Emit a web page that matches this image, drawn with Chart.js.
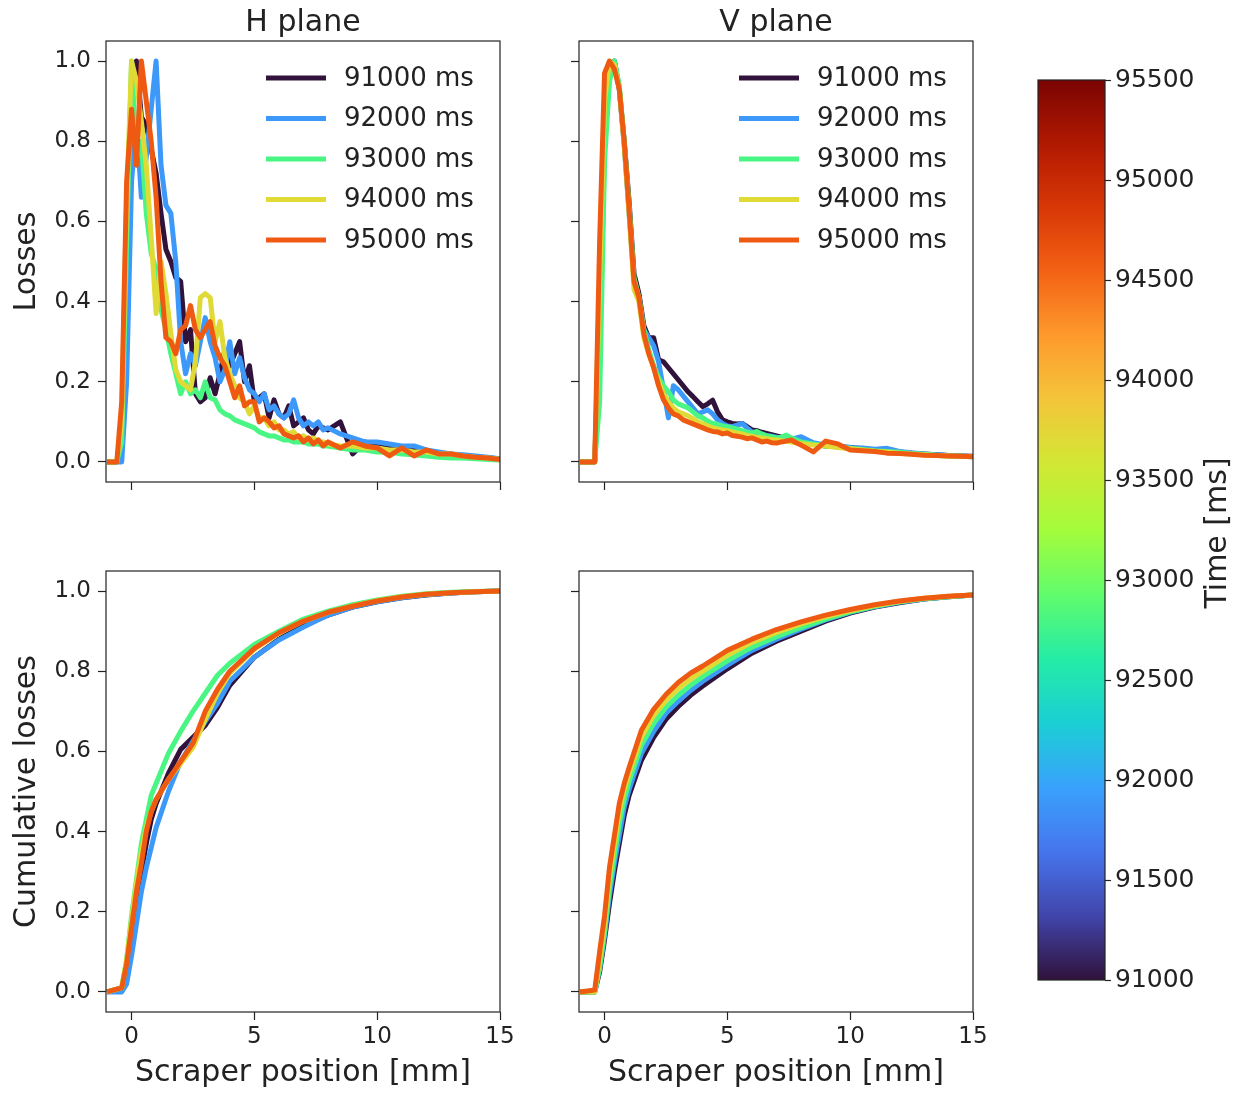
<!DOCTYPE html>
<html lang="en">
<head>
<meta charset="utf-8">
<title>Scraper scan - H and V plane losses</title>
<script src="https://cdn.jsdelivr.net/npm/chart.js@4.4.1/dist/chart.umd.min.js"></script>
<style>
  html, body { margin: 0; padding: 0; background: #ffffff; }
  #figure { position: relative; width: 1233px; height: 1093px; overflow: hidden; background: #ffffff; }
  #figure canvas { position: absolute; }
</style>
</head>
<body>
<div id="figure">
  <canvas id="lossH" width="520" height="500" style="left:0;top:0"></canvas>
  <canvas id="lossV" width="432" height="500" style="left:560px;top:0"></canvas>
  <canvas id="cumH" width="520" height="553" style="left:0;top:540px"></canvas>
  <canvas id="cumV" width="432" height="553" style="left:560px;top:540px"></canvas>
  <canvas id="cbar" width="233" height="1093" style="left:1000px;top:0"></canvas>
</div>
<script>
// ============================================================
// DATA
// ============================================================
const times = [91000, 92000, 93000, 94000, 95000];
const lineColors = ["#30123b", "#3c99f9", "#49f683", "#dfda36", "#ee5a12"];

// scraper position [mm] for the loss profiles
const xLoss = [
  -1.0, -0.6, -0.4, -0.2, 0.0, 0.2, 0.4, 0.6, 0.8, 1.0,
  1.2, 1.4, 1.6, 1.8, 2.0, 2.2, 2.4, 2.6, 2.8, 3.0,
  3.2, 3.4, 3.6, 3.8, 4.0, 4.2, 4.4, 4.6, 4.8, 5.0,
  5.2, 5.4, 5.6, 5.8, 6.0, 6.2, 6.4, 6.6, 6.8, 7.0,
  7.2, 7.4, 7.6, 7.8, 8.0, 8.5, 9.0, 9.5, 10.0,
  10.5, 11.0, 11.5, 12.0, 12.5, 13.0, 13.5, 14.0, 14.5, 15.0
];

// H plane, normalised losses
const hLoss91 = [
  0, 0, 0.05, 0.60, 0.95, 1.00, 0.86, 0.84, 0.78, 0.72,
  0.62, 0.53, 0.50, 0.46, 0.45, 0.30, 0.33, 0.17, 0.15, 0.16,
  0.21, 0.17, 0.22, 0.28, 0.24, 0.27, 0.30, 0.20, 0.24, 0.15,
  0.16, 0.17, 0.11, 0.155, 0.12, 0.11, 0.14, 0.09, 0.10, 0.11,
  0.08, 0.07, 0.09, 0.085, 0.08, 0.10, 0.02, 0.05, 0.04,
  0.04, 0.035, 0.03, 0.025, 0.02, 0.02, 0.015, 0.012, 0.01, 0.008
];
const hLoss92 = [
  0, 0, 0, 0.20, 0.70, 0.85, 0.66, 0.76, 0.88, 1.00,
  0.74, 0.64, 0.62, 0.50, 0.30, 0.22, 0.27, 0.24, 0.30, 0.36,
  0.30, 0.26, 0.20, 0.23, 0.30, 0.22, 0.26, 0.21, 0.18, 0.17,
  0.15, 0.17, 0.13, 0.14, 0.12, 0.11, 0.12, 0.155, 0.11, 0.09,
  0.10, 0.09, 0.10, 0.08, 0.085, 0.07, 0.06, 0.05, 0.05,
  0.045, 0.04, 0.04, 0.03, 0.025, 0.02, 0.018, 0.015, 0.012, 0.008
];
const hLoss93 = [
  0, 0, 0.05, 0.55, 1.00, 0.76, 0.80, 0.62, 0.52, 0.48,
  0.38, 0.33, 0.27, 0.22, 0.17, 0.20, 0.17, 0.18, 0.16, 0.20,
  0.16, 0.155, 0.13, 0.12, 0.115, 0.105, 0.10, 0.095, 0.09, 0.085,
  0.075, 0.07, 0.065, 0.065, 0.06, 0.055, 0.055, 0.05, 0.05, 0.05,
  0.045, 0.045, 0.045, 0.04, 0.04, 0.035, 0.03, 0.03, 0.025,
  0.025, 0.02, 0.018, 0.015, 0.012, 0.01, 0.01, 0.008, 0.006, 0.005
];
const hLoss94 = [
  0, 0, 0.10, 0.65, 1.00, 0.95, 0.85, 0.74, 0.56, 0.37,
  0.50, 0.42, 0.32, 0.23, 0.20, 0.19, 0.18, 0.25, 0.41, 0.42,
  0.41, 0.30, 0.35, 0.26, 0.22, 0.19, 0.16, 0.15, 0.12, 0.14,
  0.11, 0.11, 0.09, 0.10, 0.08, 0.08, 0.07, 0.075, 0.06, 0.065,
  0.055, 0.06, 0.05, 0.05, 0.045, 0.04, 0.04, 0.035, 0.035,
  0.03, 0.03, 0.025, 0.025, 0.02, 0.02, 0.015, 0.012, 0.01, 0.007
];
const hLoss95 = [
  0, 0, 0.15, 0.70, 0.88, 0.74, 1.00, 0.90, 0.80, 0.66,
  0.45, 0.31, 0.30, 0.27, 0.33, 0.34, 0.39, 0.33, 0.31, 0.33,
  0.35, 0.29, 0.26, 0.24, 0.20, 0.16, 0.19, 0.14, 0.15, 0.15,
  0.10, 0.11, 0.10, 0.085, 0.09, 0.07, 0.065, 0.06, 0.065, 0.05,
  0.06, 0.045, 0.055, 0.04, 0.05, 0.035, 0.05, 0.04, 0.035,
  0.015, 0.035, 0.015, 0.03, 0.02, 0.02, 0.015, 0.012, 0.01, 0.006
];

// V plane, normalised losses
const vLoss91 = [
  0, 0, 0, 0.35, 0.85, 0.97, 1.00, 0.93, 0.80, 0.65,
  0.47, 0.42, 0.34, 0.31, 0.31, 0.255, 0.25, 0.235, 0.22, 0.205,
  0.19, 0.175, 0.163, 0.15, 0.138, 0.145, 0.154, 0.125, 0.105, 0.10,
  0.096, 0.095, 0.096, 0.088, 0.08, 0.078, 0.074, 0.071, 0.068, 0.065,
  0.062, 0.06, 0.056, 0.055, 0.052, 0.045, 0.04, 0.038, 0.036,
  0.033, 0.03, 0.028, 0.025, 0.022, 0.02, 0.018, 0.016, 0.015, 0.014
];
const vLoss92 = [
  0, 0, 0, 0.25, 0.80, 0.96, 1.00, 0.93, 0.79, 0.62,
  0.45, 0.41, 0.33, 0.31, 0.29, 0.25, 0.18, 0.11, 0.19, 0.18,
  0.165, 0.15, 0.135, 0.12, 0.125, 0.13, 0.12, 0.105, 0.096, 0.09,
  0.088, 0.092, 0.096, 0.085, 0.075, 0.07, 0.068, 0.066, 0.064, 0.062,
  0.058, 0.055, 0.058, 0.06, 0.063, 0.048, 0.042, 0.04, 0.036,
  0.035, 0.032, 0.034, 0.026, 0.023, 0.02, 0.018, 0.016, 0.015, 0.013
];
const vLoss93 = [
  0, 0, 0, 0.15, 0.75, 0.95, 1.00, 0.94, 0.80, 0.64,
  0.46, 0.41, 0.33, 0.28, 0.24, 0.21, 0.19, 0.175, 0.155, 0.145,
  0.14, 0.135, 0.125, 0.115, 0.11, 0.102, 0.096, 0.094, 0.09, 0.088,
  0.085, 0.082, 0.078, 0.075, 0.072, 0.076, 0.07, 0.065, 0.063, 0.06,
  0.062, 0.067, 0.06, 0.055, 0.05, 0.045, 0.04, 0.038, 0.034,
  0.031, 0.028, 0.026, 0.024, 0.021, 0.019, 0.017, 0.015, 0.014, 0.013
];
const vLoss94 = [
  0, 0, 0, 0.45, 0.90, 1.00, 0.99, 0.93, 0.79, 0.62,
  0.43, 0.40, 0.31, 0.27, 0.235, 0.20, 0.17, 0.15, 0.135, 0.125,
  0.12, 0.115, 0.108, 0.10, 0.095, 0.09, 0.085, 0.082, 0.08, 0.078,
  0.075, 0.072, 0.07, 0.066, 0.064, 0.062, 0.06, 0.058, 0.056, 0.055,
  0.053, 0.052, 0.05, 0.048, 0.046, 0.042, 0.04, 0.036, 0.033,
  0.03, 0.027, 0.025, 0.022, 0.02, 0.018, 0.016, 0.015, 0.014, 0.013
];
const vLoss95 = [
  0, 0, 0, 0.55, 0.97, 1.00, 0.98, 0.93, 0.80, 0.63,
  0.45, 0.41, 0.32, 0.27, 0.235, 0.19, 0.155, 0.135, 0.12, 0.115,
  0.105, 0.10, 0.095, 0.09, 0.085, 0.08, 0.076, 0.075, 0.07, 0.072,
  0.066, 0.064, 0.062, 0.058, 0.06, 0.055, 0.05, 0.052, 0.048, 0.047,
  0.05, 0.052, 0.055, 0.048, 0.042, 0.025, 0.052, 0.045, 0.03,
  0.028, 0.026, 0.022, 0.021, 0.019, 0.017, 0.016, 0.015, 0.014, 0.013
];

// scraper position [mm] for the cumulative curves
const xCum = [-1, -0.4, -0.2, 0, 0.2, 0.4, 0.6, 0.8, 1.0, 1.5, 2, 2.5, 3, 3.5, 4, 5, 6, 7, 8, 9, 10, 11, 12, 13, 14, 15];

const hCum91 = [0, 0.01, 0.05, 0.13, 0.22, 0.30, 0.37, 0.43, 0.47, 0.545, 0.605, 0.635, 0.665, 0.71, 0.765, 0.835, 0.88, 0.915, 0.94, 0.96, 0.973, 0.983, 0.99, 0.995, 0.998, 1.0];
const hCum92 = [0, 0, 0.02, 0.09, 0.17, 0.25, 0.31, 0.36, 0.41, 0.50, 0.575, 0.625, 0.675, 0.72, 0.775, 0.835, 0.878, 0.91, 0.94, 0.96, 0.973, 0.983, 0.991, 0.995, 0.998, 1.0];
const hCum93 = [0, 0.01, 0.08, 0.19, 0.28, 0.37, 0.43, 0.49, 0.52, 0.595, 0.65, 0.70, 0.745, 0.79, 0.82, 0.867, 0.90, 0.93, 0.95, 0.966, 0.978, 0.987, 0.993, 0.997, 0.999, 1.0];
const hCum94 = [0, 0.01, 0.08, 0.18, 0.27, 0.35, 0.41, 0.45, 0.48, 0.53, 0.57, 0.61, 0.68, 0.745, 0.795, 0.855, 0.895, 0.925, 0.947, 0.963, 0.976, 0.986, 0.992, 0.996, 0.998, 1.0];
const hCum95 = [0, 0.01, 0.07, 0.16, 0.25, 0.32, 0.40, 0.45, 0.48, 0.53, 0.575, 0.62, 0.70, 0.755, 0.80, 0.857, 0.896, 0.925, 0.947, 0.962, 0.975, 0.985, 0.992, 0.996, 0.998, 1.0];

const vCum91 = [0, 0, 0.05, 0.13, 0.22, 0.30, 0.37, 0.44, 0.49, 0.578, 0.635, 0.68, 0.712, 0.74, 0.763, 0.806, 0.845, 0.875, 0.90, 0.925, 0.945, 0.96, 0.971, 0.98, 0.986, 0.99];
const vCum92 = [0, 0, 0.06, 0.14, 0.24, 0.32, 0.39, 0.46, 0.505, 0.595, 0.65, 0.695, 0.725, 0.752, 0.775, 0.815, 0.852, 0.88, 0.905, 0.928, 0.947, 0.961, 0.972, 0.98, 0.986, 0.99];
const vCum93 = [0, 0, 0.06, 0.15, 0.26, 0.34, 0.42, 0.48, 0.525, 0.615, 0.67, 0.71, 0.74, 0.765, 0.787, 0.826, 0.86, 0.886, 0.909, 0.93, 0.948, 0.962, 0.973, 0.981, 0.986, 0.99];
const vCum94 = [0, 0, 0.08, 0.17, 0.29, 0.37, 0.45, 0.505, 0.545, 0.635, 0.69, 0.728, 0.757, 0.78, 0.80, 0.84, 0.872, 0.897, 0.918, 0.936, 0.951, 0.964, 0.974, 0.982, 0.987, 0.99];
const vCum95 = [0, 0.005, 0.10, 0.19, 0.31, 0.39, 0.47, 0.52, 0.56, 0.653, 0.705, 0.742, 0.772, 0.795, 0.813, 0.852, 0.88, 0.904, 0.923, 0.94, 0.954, 0.966, 0.975, 0.982, 0.987, 0.99];

// axis ticks
const xTicks = [0, 5, 10, 15];
const yTicks = [0, 0.2, 0.4, 0.6, 0.8, 1.0];
const cbarTicks = [91000, 91500, 92000, 92500, 93000, 93500, 94000, 94500, 95000, 95500];

// turbo colormap, evenly spaced stops from bottom to top of the colorbar
const turboStops = [
  "#30123b", "#4145ab", "#4675ed", "#39a2fc", "#1bcfd4",
  "#24eca6", "#61fc6c", "#a4fc3b", "#d1e834", "#f3c63a",
  "#fe9b2d", "#f36315", "#d93806", "#b11901", "#7a0402"
];

// ============================================================
// STYLE
// ============================================================
const FONT = "'DejaVu Sans', sans-serif";
const INK = "#222222";
const LINE_W = 5;

// ============================================================
// PLUGINS
// ============================================================
// full box around the plot area (all four spines)
const framePlugin = {
  id: "frame",
  afterDraw(chart) {
    const { ctx, chartArea: a } = chart;
    ctx.save();
    ctx.strokeStyle = INK;
    ctx.lineWidth = 1.2;
    ctx.strokeRect(a.left, a.top, a.right - a.left, a.bottom - a.top);
    ctx.restore();
  }
};

// legend drawn inside the plot area, upper right
const insideLegend = {
  id: "insideLegend",
  afterDatasetsDraw(chart, args, opts) {
    if (!opts.show) return;
    const { ctx, chartArea: a } = chart;
    ctx.save();
    ctx.font = `26px ${FONT}`;
    ctx.textBaseline = "middle";
    ctx.textAlign = "left";
    chart.data.datasets.forEach((ds, i) => {
      const y = a.top + 37 + i * 40.5;
      ctx.strokeStyle = ds.borderColor;
      ctx.lineWidth = LINE_W;
      ctx.beginPath();
      ctx.moveTo(a.right - 234, y);
      ctx.lineTo(a.right - 174, y);
      ctx.stroke();
      ctx.fillStyle = INK;
      ctx.fillText(ds.label, a.right - 156, y + 1);
    });
    ctx.restore();
  }
};

// colorbar gradient, placed with the y scale
const colorbarFill = {
  id: "colorbarFill",
  beforeDatasetsDraw(chart) {
    const { ctx, chartArea: a, scales: { y } } = chart;
    const lo = cbarTicks[0];
    const hi = cbarTicks[cbarTicks.length - 1];
    const g = ctx.createLinearGradient(0, y.getPixelForValue(lo), 0, y.getPixelForValue(hi));
    turboStops.forEach((c, i) => g.addColorStop(i / (turboStops.length - 1), c));
    ctx.save();
    ctx.fillStyle = g;
    ctx.fillRect(a.left, a.top, a.right - a.left, a.bottom - a.top);
    ctx.restore();
  }
};

// colorbar label, reading bottom to top
const sideLabel = {
  id: "sideLabel",
  afterDraw(chart, args, opts) {
    const { ctx, chartArea: a } = chart;
    ctx.save();
    ctx.translate(opts.x, (a.top + a.bottom) / 2 + 3);
    ctx.rotate(-Math.PI / 2);
    ctx.font = `30px ${FONT}`;
    ctx.fillStyle = INK;
    ctx.textAlign = "center";
    ctx.textBaseline = "middle";
    ctx.fillText(opts.text, 0, 0);
    ctx.restore();
  }
};

// ============================================================
// SCALES
// ============================================================
function makeScale(o) {
  return {
    type: "linear",
    position: o.position,
    min: o.min,
    max: o.max,
    afterBuildTicks: s => { s.ticks = o.ticks.map(v => ({ value: v })); },
    afterFit: s => {
      if (s.isHorizontal()) s.height = o.size; else s.width = o.size;
      s.paddingLeft = 0; s.paddingRight = 0; s.paddingTop = 0; s.paddingBottom = 0;
    },
    grid: { drawOnChartArea: false, drawTicks: true, tickLength: o.tickLength || 8, tickColor: INK, tickWidth: 1.2 },
    border: { display: false },
    ticks: {
      display: o.labels,
      color: INK,
      font: { family: FONT, size: o.fontSize || 23 },
      padding: o.padding,
      maxRotation: 0,
      autoSkip: false,
      callback: o.format
    },
    title: o.title
      ? { display: true, text: o.title, color: INK, font: { family: FONT, size: 30 }, padding: o.titlePadding }
      : { display: false }
  };
}

// ============================================================
// PANELS
// ============================================================
function linePanel(id, x, series, o) {
  const datasets = series.map((ys, i) => ({
    label: `${times[i]} ms`,
    data: x.map((xv, k) => ({ x: xv, y: ys[k] })),
    borderColor: lineColors[i],
    backgroundColor: lineColors[i],
    borderWidth: LINE_W,
    borderJoinStyle: "round",
    pointRadius: 0,
    tension: 0,
    order: times.length - i
  }));

  return new Chart(document.getElementById(id), {
    type: "line",
    data: { datasets },
    options: {
      responsive: false,
      animation: false,
      events: [],
      layout: { padding: o.padding },
      plugins: {
        legend: { display: false },
        tooltip: { enabled: false },
        title: o.title
          ? { display: true, text: o.title, fullSize: false, color: INK,
              font: { family: FONT, size: 30, weight: "normal" }, padding: { top: 5, bottom: 0 } }
          : { display: false },
        insideLegend: { show: !!o.legend }
      },
      scales: {
        x: makeScale({
          position: "bottom", min: -1.04, max: 15, ticks: xTicks, size: o.xHeight,
          labels: o.xLabels, padding: 3, format: v => String(v),
          title: o.xLabels ? "Scraper position [mm]" : null, titlePadding: { top: 0, bottom: 2 }
        }),
        y: makeScale({
          position: "left", min: -0.05, max: 1.05, ticks: yTicks, size: o.yWidth,
          labels: o.yLabels, padding: 7, format: v => v.toFixed(1),
          title: o.yTitle, titlePadding: { top: 9, bottom: 0 }
        })
      }
    },
    plugins: [framePlugin, insideLegend]
  });
}

linePanel("lossH", xLoss, [hLoss91, hLoss92, hLoss93, hLoss94, hLoss95], {
  title: "H plane", legend: true, yTitle: "Losses", yLabels: true, xLabels: false,
  yWidth: 106, xHeight: 18, padding: { left: 0, right: 20, top: 0, bottom: 0 }
});
linePanel("lossV", xLoss, [vLoss91, vLoss92, vLoss93, vLoss94, vLoss95], {
  title: "V plane", legend: true, yTitle: null, yLabels: false, xLabels: false,
  yWidth: 19, xHeight: 18, padding: { left: 0, right: 19, top: 0, bottom: 0 }
});
linePanel("cumH", xCum, [hCum91, hCum92, hCum93, hCum94, hCum95], {
  title: null, legend: false, yTitle: "Cumulative losses", yLabels: true, xLabels: true,
  yWidth: 106, xHeight: 81, padding: { left: 0, right: 20, top: 31, bottom: 0 }
});
linePanel("cumV", xCum, [vCum91, vCum92, vCum93, vCum94, vCum95], {
  title: null, legend: false, yTitle: null, yLabels: false, xLabels: true,
  yWidth: 19, xHeight: 81, padding: { left: 0, right: 19, top: 31, bottom: 0 }
});

// ============================================================
// COLORBAR
// ============================================================
new Chart(document.getElementById("cbar"), {
  type: "line",
  data: { datasets: [] },
  options: {
    responsive: false,
    animation: false,
    events: [],
    layout: { padding: { left: 38, top: 80, bottom: 113, right: 0 } },
    plugins: {
      legend: { display: false },
      tooltip: { enabled: false },
      sideLabel: { text: "Time [ms]", x: 218 }
    },
    scales: {
      x: { display: false },
      y: makeScale({
        position: "right", min: cbarTicks[0], max: cbarTicks[cbarTicks.length - 1], ticks: cbarTicks,
        size: 128, labels: true, padding: 4, tickLength: 6, fontSize: 25, format: v => String(v)
      })
    }
  },
  plugins: [colorbarFill, framePlugin, sideLabel]
});
</script>
</body>
</html>
